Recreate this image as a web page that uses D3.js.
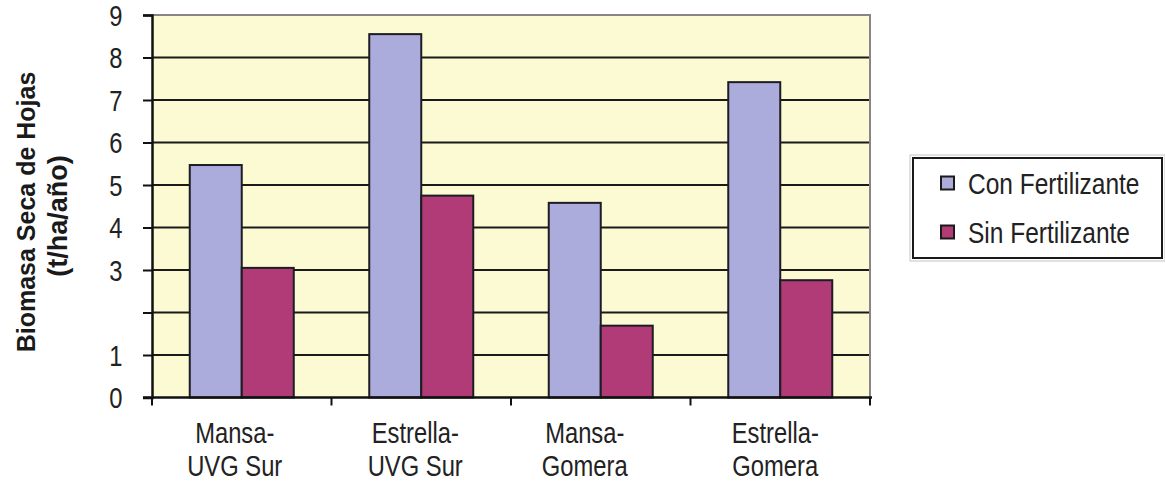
<!DOCTYPE html>
<html>
<head>
<meta charset="utf-8">
<script src="https://cdn.jsdelivr.net/npm/d3@7"></script>
<style>
  html, body { margin: 0; padding: 0; background: #ffffff; }
  svg { display: block; }
</style>
</head>
<body>
<script>
// Categories (two-line labels) and series values, t/ha/año
const categories = ["Mansa-UVG Sur", "Estrella-UVG Sur", "Mansa-Gomera", "Estrella-Gomera"];
const categoryLines = [["Mansa-", "UVG Sur"], ["Estrella-", "UVG Sur"], ["Mansa-", "Gomera"], ["Estrella-", "Gomera"]];
const seriesNames = ["Con Fertilizante", "Sin Fertilizante"];
const conFertilizante = [5.47, 8.55, 4.58, 7.42];
const sinFertilizante = [3.05, 4.75, 1.69, 2.76];
const yTickValues = [0, 1, 2, 3, 4, 5, 6, 7, 8, 9];
const yTickLabels = ["0", "1", "", "3", "4", "5", "6", "7", "8", "9"];
const yTitleLines = ["Biomasa Seca de Hojas", "(t/ha/año)"];

const W = 1165, H = 481;
const colors = { "Con Fertilizante": "#ABABDC", "Sin Fertilizante": "#B13B77" };
const FONT = "'Liberation Sans', Arial, sans-serif";

const svg = d3.select("body").append("svg").attr("width", W).attr("height", H);

// condensed text: regular face squeezed horizontally around its anchor point
function narrowText(parent, x, y, str, size, anchor, sx = 0.8) {
  return parent.append("g").attr("transform", `translate(${x},${y}) scale(${sx},1)`)
    .append("text")
    .attr("font-family", FONT).attr("font-size", size).attr("fill", "#222")
    .attr("text-anchor", anchor)
    .text(str);
}

const plot = { left: 152, right: 870, top: 15, bottom: 397.5 };

const x = d3.scaleBand().domain(categories).range([plot.left, plot.right]).padding(0);
const xInner = d3.scaleBand().domain(seriesNames).range([0, x.bandwidth()])
  .paddingInner(0).paddingOuter(0.726);
const y = d3.scaleLinear().domain([0, 9]).range([plot.bottom, plot.top]);

// plot background
svg.append("rect")
  .attr("x", plot.left).attr("y", plot.top)
  .attr("width", plot.right - plot.left).attr("height", plot.bottom - plot.top)
  .attr("fill", "#FCFAD2");

// horizontal gridlines
svg.append("g").selectAll("line")
  .data(yTickValues.filter(v => v > 0 && v < 9))
  .join("line")
  .attr("x1", plot.left).attr("x2", plot.right)
  .attr("y1", d => y(d)).attr("y2", d => y(d))
  .attr("stroke", "#1a1a1a").attr("stroke-width", 2);

// top and right frame
svg.append("path")
  .attr("d", `M${plot.left},${y(9)}H${plot.right}V${plot.bottom}`)
  .attr("fill", "none").attr("stroke", "#8a8486").attr("stroke-width", 2);

// bars
const rows = categories.map((c, i) => ({ cat: c, values: [
  { name: seriesNames[0], v: conFertilizante[i] },
  { name: seriesNames[1], v: sinFertilizante[i] }
]}));

const groups = svg.append("g").selectAll("g")
  .data(rows).join("g")
  .attr("transform", d => `translate(${x(d.cat)},0)`);

groups.selectAll("rect")
  .data(d => d.values).join("rect")
  .attr("x", d => xInner(d.name))
  .attr("y", d => y(d.v))
  .attr("width", xInner.bandwidth())
  .attr("height", d => y(0) - y(d.v))
  .attr("fill", d => colors[d.name])
  .attr("stroke", "#1c1c22").attr("stroke-width", 2);

// y axis (labels drawn separately in the condensed face)
const yAxis = d3.axisLeft(y).tickValues(yTickValues).tickFormat("").tickSize(9);
const gy = svg.append("g").attr("transform", `translate(${plot.left},0)`).call(yAxis);
gy.select(".domain").attr("stroke", "#111").attr("stroke-width", 2.5);
gy.selectAll(".tick line").attr("stroke", "#111").attr("stroke-width", 2);
gy.selectAll(".tick text").remove();
const yl = svg.append("g");
yTickValues.forEach((v, i) => {
  if (yTickLabels[i]) narrowText(yl, 122.5, y(v) + 10.5, yTickLabels[i], 29, "end", 0.82);
});

// x axis with ticks at category boundaries
const gx = svg.append("g").attr("transform", `translate(0,${plot.bottom})`);
gx.append("line").attr("x1", plot.left - 9).attr("x2", plot.right + 2)
  .attr("stroke", "#111").attr("stroke-width", 2.5);
const boundaries = categories.map(c => x(c)).concat([plot.right]);
gx.selectAll(".xt").data(boundaries).join("line")
  .attr("class", "xt")
  .attr("x1", d => d).attr("x2", d => d).attr("y1", 0).attr("y2", 8)
  .attr("stroke", "#111").attr("stroke-width", 2);

// category labels
const labelOffsets = [-7, -6, -16, -5];
const xl = svg.append("g");
categories.forEach((c, i) => {
  const cx = x(c) + x.bandwidth() / 2 + labelOffsets[i];
  categoryLines[i].forEach((line, j) => {
    narrowText(xl, cx, 443 + j * 32.5, line, 29, "middle", 0.82);
  });
});

// y axis title (two rotated lines)
[[35, 212, 25], [67, 216, 27]].forEach(([cx, cy, fs], i) => {
  svg.append("text")
    .attr("transform", `translate(${cx},${cy}) rotate(-90)`)
    .attr("font-family", FONT)
    .attr("font-weight", "bold").attr("font-size", fs).attr("fill", "#1a1a1a")
    .attr("text-anchor", "middle")
    .text(yTitleLines[i]);
});

// legend
const lg = svg.append("g");
lg.append("rect").attr("x", 910).attr("y", 155).attr("width", 255).attr("height", 106)
  .attr("fill", "none").attr("stroke", "#c4c4c4").attr("stroke-width", 1);
lg.append("rect").attr("x", 913).attr("y", 158).attr("width", 249).attr("height", 100)
  .attr("fill", "#ffffff").attr("stroke", "#1a1a1a").attr("stroke-width", 2);
seriesNames.forEach((name, i) => {
  const cy = 183 + i * 49;
  lg.append("rect").attr("x", 941).attr("y", cy - 6.5).attr("width", 13).attr("height", 13)
    .attr("fill", colors[name]).attr("stroke", "#1a1a1a").attr("stroke-width", 2);
  narrowText(lg, 968, cy + 11, name, 29, "start", 0.845);
});
</script>
</body>
</html>
